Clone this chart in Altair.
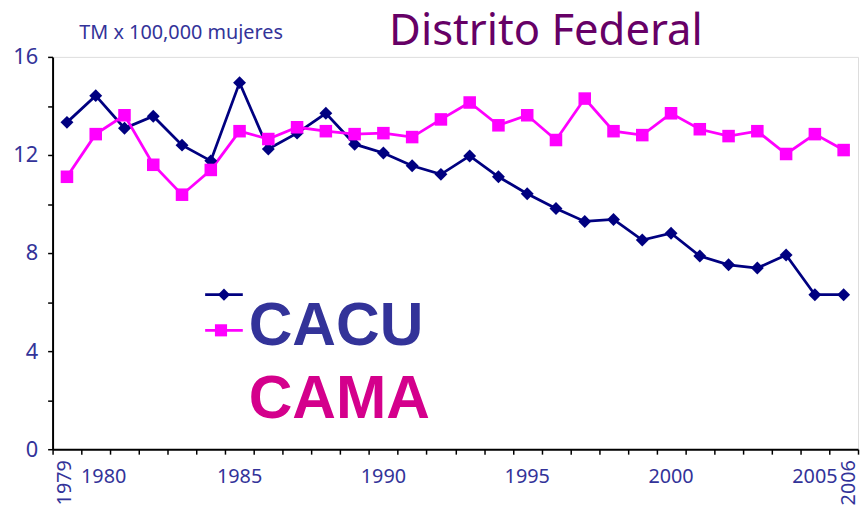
import altair as alt
import pandas as pd

years = list(range(1979, 2007))
cacu = [13.33, 14.42, 13.09, 13.58, 12.40, 11.76, 14.95, 12.24, 12.89, 13.70,
        12.44, 12.08, 11.56, 11.21, 11.96, 11.11, 10.42, 9.82, 9.29, 9.37,
        8.53, 8.81, 7.88, 7.52, 7.39, 7.92, 6.30, 6.30]
cama = [11.11, 12.85, 13.62, 11.60, 10.38, 11.39, 12.97, 12.65, 13.13, 12.97,
        12.85, 12.89, 12.73, 13.45, 14.14, 13.21, 13.62, 12.61, 14.30, 12.97,
        12.81, 13.70, 13.05, 12.77, 12.97, 12.04, 12.85, 12.20]
flat_labels = [1985, 1990, 1995, 2000, 2005]
shifted_labels = [1980]
rot_labels = [1979]
rot_shift_labels = [2006]
series_names = ["CACU", "CAMA"]
title_text = "Distrito Federal"
subtitle_text = "TM x 100,000 mujeres"

W, H = 813, 396
NAVY = "#000080"
MAG = "#FF00FF"
LABEL = "#333399"
FONT = "Noto Sans"

df = pd.DataFrame({"year": years, "CACU": cacu, "CAMA": cama})

xscale = alt.Scale(domain=years, paddingInner=0, paddingOuter=0)
yscale = alt.Scale(domain=[0, 16], nice=False)

xenc = alt.X("year:O", scale=xscale,
             axis=alt.Axis(labels=False, title=None, tickBand="extent",
                           tickSize=5, tickColor="black", tickWidth=1.5,
                           domainColor="black", domainWidth=2))
yax = alt.Axis(values=[0, 2, 4, 6, 8, 10, 12, 14, 16],
               labelExpr="datum.value % 4 == 0 ? datum.label : ''",
               title=None, grid=False, tickSize=5, tickColor="black",
               tickWidth=1.5, domainColor="black", domainWidth=2,
               labelFontSize=22, labelColor=LABEL, labelFont=FONT,
               labelPadding=10)

base = alt.Chart(df)

cacu_line = base.mark_line(color=NAVY, strokeWidth=2.8).encode(
    x=xenc, y=alt.Y("CACU:Q", scale=yscale, axis=yax))
cacu_pts = base.mark_point(shape="diamond", filled=True, size=170,
                           color=NAVY, opacity=1).encode(
    x=alt.X("year:O", scale=xscale), y=alt.Y("CACU:Q", scale=yscale))
cama_line = base.mark_line(color=MAG, strokeWidth=2.8).encode(
    x=alt.X("year:O", scale=xscale), y=alt.Y("CAMA:Q", scale=yscale))
cama_pts = base.mark_point(shape="square", filled=True, size=160,
                           color=MAG, opacity=1).encode(
    x=alt.X("year:O", scale=xscale), y=alt.Y("CAMA:Q", scale=yscale))


def lab_df(vals):
    return pd.DataFrame({"year": vals, "label": [str(v) for v in vals]})


flat_txt = alt.Chart(lab_df(flat_labels)).mark_text(
    font=FONT, fontSize=20, color=LABEL, baseline="alphabetic",
    align="center").encode(
    x=alt.X("year:O", scale=xscale), y=alt.value(H + 34), text="label:N")
shift_txt = alt.Chart(lab_df(shifted_labels)).mark_text(
    font=FONT, fontSize=20, color=LABEL, baseline="alphabetic",
    align="center", dx=8).encode(
    x=alt.X("year:O", scale=xscale), y=alt.value(H + 34), text="label:N")
rot_txt = alt.Chart(lab_df(rot_labels)).mark_text(
    font=FONT, fontSize=20, color=LABEL, baseline="middle",
    align="right", angle=270, dy=-2).encode(
    x=alt.X("year:O", scale=xscale), y=alt.value(H + 11), text="label:N")
rot_txt2 = alt.Chart(lab_df(rot_shift_labels)).mark_text(
    font=FONT, fontSize=20, color=LABEL, baseline="middle",
    align="right", angle=270, dy=5).encode(
    x=alt.X("year:O", scale=xscale), y=alt.value(H + 11), text="label:N")

title = alt.Chart(pd.DataFrame({"t": [title_text]})).mark_text(
    font=FONT, fontSize=44, color="#660066", align="center",
    baseline="alphabetic").encode(
    x=alt.value(498), y=alt.value(-12), text="t:N")
subtitle = alt.Chart(pd.DataFrame({"t": [subtitle_text]})).mark_text(
    font=FONT, fontSize=20, color=LABEL, align="left",
    baseline="alphabetic").encode(
    x=alt.value(27), y=alt.value(-18), text="t:N")

leg_df = pd.DataFrame({"name": series_names})
leg1_rule = alt.Chart(leg_df.iloc[[0]]).mark_rule(color=NAVY, strokeWidth=2.8).encode(
    x=alt.value(154), x2=alt.value(192), y=alt.value(240))
leg1_pt = alt.Chart(leg_df.iloc[[0]]).mark_point(
    shape="diamond", filled=True, size=150, color=NAVY, opacity=1).encode(
    x=alt.value(173), y=alt.value(240))
leg2_rule = alt.Chart(leg_df.iloc[[1]]).mark_rule(color=MAG, strokeWidth=2.8).encode(
    x=alt.value(154), x2=alt.value(192), y=alt.value(276))
leg2_pt = alt.Chart(leg_df.iloc[[1]]).mark_point(
    shape="square", filled=True, size=150, color=MAG, opacity=1).encode(
    x=alt.value(170), y=alt.value(276))
leg1_txt = alt.Chart(leg_df.iloc[[0]]).mark_text(
    font="Liberation Sans", fontWeight="bold", fontSize=61, color="#333399",
    align="left", baseline="alphabetic").encode(
    x=alt.value(198), y=alt.value(291), text="name:N")
leg2_txt = alt.Chart(leg_df.iloc[[1]]).mark_text(
    font="Liberation Sans", fontWeight="bold", fontSize=61, color="#D4008C",
    align="left", baseline="alphabetic").encode(
    x=alt.value(198), y=alt.value(364), text="name:N")

chart = alt.layer(
    cacu_line, cama_line, cacu_pts, cama_pts, flat_txt, shift_txt, rot_txt,
    rot_txt2, title, subtitle, leg1_rule, leg2_rule, leg1_pt, leg2_pt,
    leg1_txt, leg2_txt
).properties(
    width=W, height=H,
    autosize=alt.AutoSizeParams(type="none"),
    padding={"left": 45, "top": 47, "right": 2, "bottom": 58},
).configure_view(stroke=None).configure(background="white")

chart.save("out.html", embed_options={"renderer": "svg", "actions": False})
